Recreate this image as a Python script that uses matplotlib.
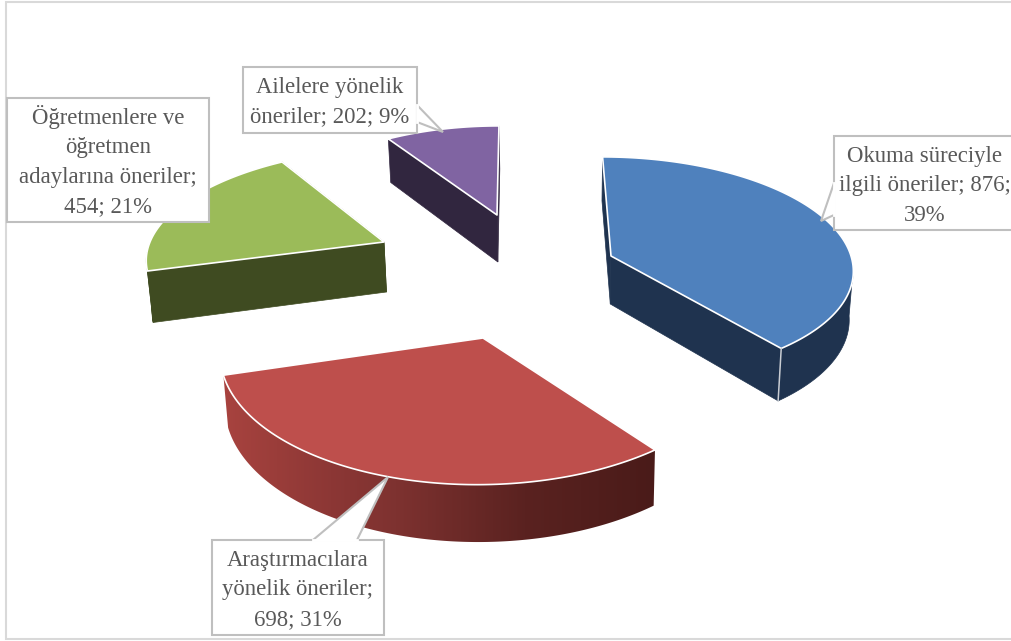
import matplotlib
matplotlib.use("Agg")
import matplotlib.pyplot as plt
import numpy as np
from matplotlib.colors import LinearSegmentedColormap
from matplotlib.patches import Polygon, Rectangle

# Data, in pie order (clockwise from 12 o'clock).
values = [876, 698, 454, 202]
label_texts = [
    "Okuma süreciyle\nilgili öneriler; 876;\n39%",
    "Araştırmacılara\nyönelik öneriler;\n698; 31%",
    "Öğretmenlere ve\nöğretmen\nadaylarına öneriler;\n454; 21%",
    "Ailelere yönelik\nöneriler; 202; 9%",
]
top_colors = ["#4F81BD", "#BE4F4C", "#9BBB59", "#8064A2"]
wall_colors = ["#1F334F", None, "#3F4B21", "#31263F"]

# Look of each exploded slice in pixels: apex, x radius, y radius, skew, depth.
apex_x = [611, 483, 384, 497]
apex_y = [256, 338, 242, 215]
radius_x = [240, 261, 234, 222]
radius_y = [109, 132, 103, 98]
skew = [0.085, -0.041, -0.179, -0.022]
depth = [48, 51, 50, 47]
PERSP = 0.1

# Callout boxes: x0, y0, x1, y1, pointer points, text centre.
boxes = [(834, 136, 1030, 230), (212, 540, 384, 635), (7, 98, 209, 222), (243, 67, 417, 133)]
pointers = [
    [(834, 183), (821, 221), (834, 215)],
    [(313, 540), (388, 477), (357, 540)],
    None,
    [(417, 105), (443, 132), (417, 122)],
]
text_pos = [(925, 186), (298, 590), (108, 161), (330, 102)]

red_wall = LinearSegmentedColormap.from_list(
    "red_wall", [(0, "#A8433F"), (0.25, "#8C3735"), (0.4, "#7E3230"), (0.7, "#5A2220"), (1, "#4A1B19")]
)

fig = plt.figure(figsize=(10.12, 6.41), dpi=100)
ax = fig.add_axes([0, 0, 1, 1])
plt.rcParams["font.family"] = ["Liberation Serif", "DejaVu Serif"]

ax.add_patch(Rectangle((6, 2), 1010, 637, fc="white", ec="#D9D9D9", lw=1.5))


def rim(i, theta):
    px = np.sin(theta) / (1 + PERSP * np.cos(theta))
    py = np.cos(theta) / (1 + PERSP * np.cos(theta))
    dy = -radius_y[i] * py
    return apex_x[i] + radius_x[i] * px + skew[i] * dy, apex_y[i] + dy, py


def lowered(i, x, y, py):
    # depth lines lean slightly towards the middle of the picture
    return x - (x - 560) * 0.014, y + depth[i] / (1 + PERSP * py)


angles = 2 * np.pi * np.cumsum([0] + values) / sum(values)

for i in [2, 3, 0, 1]:
    theta = np.linspace(angles[i], angles[i + 1], 200)
    x, y, py = rim(i, theta)
    xb, yb = lowered(i, x, y, py)
    ax_, ay_ = apex_x[i], apex_y[i]
    bx_, by_ = lowered(i, ax_, ay_, 0)
    wall = wall_colors[i]
    # only the front of the rim shows a wall
    front = py < -0.1
    wall_xy = np.column_stack([np.r_[x[front], xb[front][::-1]], np.r_[y[front], yb[front][::-1]]])

    if wall is None:
        # red outer wall shades from left to right
        patch = Polygon(wall_xy, fc="none", ec="none")
        ax.add_patch(patch)
        grad = np.linspace(0, 1, 256).reshape(1, -1)
        im = ax.imshow(grad, cmap=red_wall, extent=(x.min(), x.max(), yb.max() + 2, y.min() - 2),
                       aspect="auto", zorder=1)
        im.set_clip_path(patch)
    else:
        # the two flat cut faces and the outer wall
        for k in [0, -1]:
            ax.add_patch(Polygon([(ax_, ay_), (x[k], y[k]), (xb[k], yb[k]), (bx_, by_)],
                                 fc=wall, ec=wall, lw=0.5))
        if front.sum() > 1:
            ax.add_patch(Polygon(wall_xy, fc=wall, ec=wall, lw=0.5))
    # top face
    ax.add_patch(Polygon(np.column_stack([np.r_[ax_, x], np.r_[ay_, y]]),
                         fc=top_colors[i], ec="white", lw=1.2, joinstyle="round", zorder=2))

# white corner line on the blue slice
xc, yc, pc = rim(0, angles[1])
xd, yd = lowered(0, xc, yc, pc)
ax.plot([xc, xd], [yc, yd], color="#C9CDD3", lw=1.1, zorder=2)

for i in range(len(values)):
    x0, y0, x1, y1 = boxes[i]
    ax.add_patch(Rectangle((x0, y0), x1 - x0, y1 - y0, fc="white", ec="#BFBFBF", lw=1.5, zorder=5))
    if pointers[i] is not None:
        ax.add_patch(Polygon(pointers[i], closed=False, fc="white", ec="#BFBFBF", lw=1.5, zorder=5))
        # hide the box border under the pointer base
        a, _, b = pointers[i]
        ax.plot([a[0], b[0]], [a[1], b[1]], color="white", lw=2, zorder=6)
    ax.text(text_pos[i][0], text_pos[i][1], label_texts[i], ha="center", va="center",
            fontsize=16.4, color="#595959", linespacing=1.52, zorder=7, clip_on=True)

ax.set_xlim(0, 1012)
ax.set_ylim(641, 0)
ax.axis("off")

fig.savefig("out.png", dpi=100)
